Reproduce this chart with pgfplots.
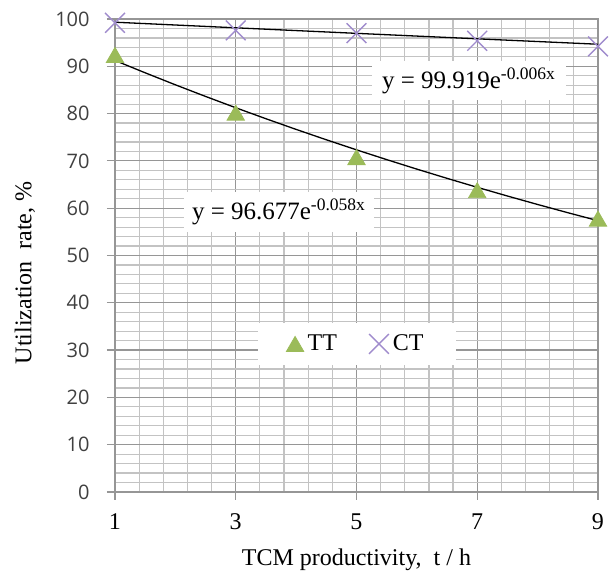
\documentclass[border=0pt]{standalone}
\usepackage{pgfplots}
\pgfplotsset{compat=1.18}
\usepackage{fontspec}
\setmainfont{Liberation Serif}
\newfontfamily\tickfont{Open Sans}
\definecolor{ttgreen}{RGB}{155,187,89}
\definecolor{ctpurple}{RGB}{160,140,205}
\definecolor{majgrid}{RGB}{150,150,150}
\definecolor{mingrid}{RGB}{195,195,195}
\begin{document}
\begin{tikzpicture}
\path[use as bounding box] (0,0) rectangle (305.5pt,289pt);
\begin{axis}[
  at={(57.5pt,43pt)}, anchor=south west,
  scale only axis, width=241.5pt, height=236.5pt,
  xmin=1, xmax=9, ymin=0, ymax=100,
  xtick={1,3,5,7,9}, ytick={0,10,...,100},
  minor x tick num=4, minor y tick num=4,
  grid=both,
  major grid style={majgrid, line width=0.6pt},
  minor grid style={mingrid, line width=0.6pt},
  axis line style={majgrid, line width=0.6pt},
  tick align=outside, xtick pos=bottom, ytick pos=left,
  major tick length=4pt, minor tick length=0pt,
  tick style={majgrid, line width=0.6pt},
  /pgf/number format/assume math mode=true,
  yticklabel style={font=\tickfont\fontsize{10}{12}\selectfont, text=black!75, inner sep=0pt, anchor=east, xshift=-8.5pt},
  xticklabel style={font=\fontsize{12}{14}\selectfont, inner sep=0pt, anchor=north, yshift=-6.5pt},
  xlabel={TCM productivity,\ \ t / h},
  ylabel={Utilization\ \ rate, \%},
  xlabel style={at={([yshift=-34pt]axis description cs:0.5,0)}, anchor=center, font=\fontsize{12}{14}\selectfont},
  ylabel style={at={([xshift=-45pt]axis description cs:0,0.463)}, anchor=center, font=\fontsize{12}{14}\selectfont},
  clip=false,
  legend columns=2,
  legend style={at={(axis description cs:0.501,0.313)}, anchor=center, draw=none, fill=white,
    font=\fontsize{12}{14}\selectfont, inner xsep=14pt, inner ysep=4pt,
    /tikz/every even column/.append style={column sep=14pt}},
  legend cell align=left,
]
\addplot[only marks, mark=triangle*, mark size=5pt, color=ttgreen, mark options={yshift=-1.25pt}]
  coordinates {(1,92.4) (3,80.2) (5,70.8) (7,63.8) (9,57.8)};
\addlegendentry{TT}
\addplot[only marks, mark=x, mark size=7pt, color=ctpurple, mark options={line width=0.7pt}]
  coordinates {(1,99.2) (3,97.6) (5,97.0) (7,95.4) (9,94.2)};
\addlegendentry{CT}
\addplot[black, line width=0.65pt, forget plot] coordinates {
 (1,91.229) (1.5,88.622) (2,86.089) (2.5,83.628) (3,81.237) (3.5,78.915)
 (4,76.659) (4.5,74.467) (5,72.339) (5.5,70.271) (6,68.262) (6.5,66.311)
 (7,64.416) (7.5,62.575) (8,60.786) (8.5,59.048) (9,57.361)};
\addplot[black, line width=0.65pt, forget plot] coordinates {
 (1,99.321) (3,98.137) (5,96.966) (7,95.809) (9,94.666)};
\node[fill=white, inner xsep=4pt, minimum height=19.5pt, font=\fontsize{12.5}{14}\selectfont]
  at (axis cs:3.716,59.2) {y = 96.677e\textsuperscript{-0.058x}};
\node[fill=white, inner xsep=5pt, minimum height=16pt, font=\fontsize{12.5}{14}\selectfont]
  at (axis cs:6.863,86.9) {y = 99.919e\textsuperscript{-0.006x}};
\end{axis}
\end{tikzpicture}
\end{document}
